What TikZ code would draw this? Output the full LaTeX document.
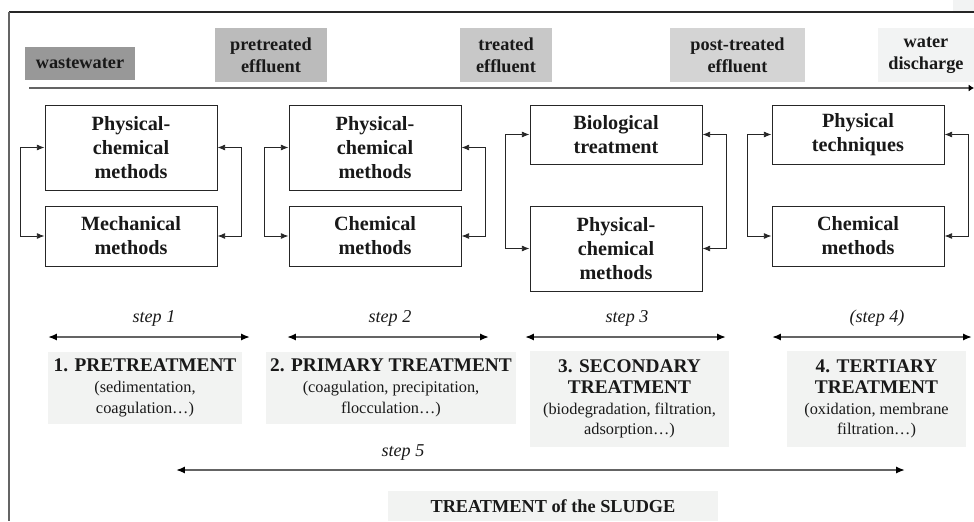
\documentclass[tikz,border=0pt]{standalone}
\usepackage{fontspec}
\setmainfont{Liberation Serif}
\usetikzlibrary{arrows.meta}
\definecolor{toneA}{RGB}{152,152,152}
\definecolor{toneB}{RGB}{187,187,187}
\definecolor{toneC}{RGB}{200,200,200}
\definecolor{toneD}{RGB}{212,212,212}
\definecolor{toneE}{RGB}{242,243,243}
\definecolor{stagefill}{RGB}{242,243,242}
\definecolor{linegray}{RGB}{100,100,100}
\newcommand{\stagetitle}{\fontsize{11}{12.5}\selectfont\bfseries}
\begin{document}
\begin{tikzpicture}
[x=0.02cm,y=-0.02cm,
  labeldecorate/.style={fill=#1,align=center,inner sep=0pt,text=black!90,
    font=\fontsize{10.4}{12.4}\selectfont\bfseries},%
  methoddecorate/.style={draw=black!85,line width=0.5pt,fill=white,align=center,
    inner sep=0pt,minimum width=3.44cm,text=black!90,
    font=\fontsize{11.5}{13.6}\selectfont\bfseries},%
  stagedecorate/.style={fill=stagefill,align=center,inner sep=0pt,text=black!90,
    font=\fontsize{9.3}{11.8}\selectfont},%
  stepdecorate/.style={font=\fontsize{10.3}{12}\selectfont\itshape,text=black!90},%
  loopdecorate/.style={{Latex[length=4.4pt,width=3.4pt]}-{Latex[length=4.4pt,width=3.4pt]},
    line width=0.5pt,black!85},%
  spandecorate/.style={{Latex[length=5pt,width=4pt,color=black]}-{Latex[length=5pt,width=4pt,color=black]},
    line width=1pt,linegray},%
  flowdecorate/.style={-{Latex[length=3pt,width=4pt,color=black]},line width=1.2pt,linegray}]
\useasboundingbox (0,0) rectangle (974,521);
%% frame
\fill[toneE] (953,0) rectangle (974,11);
\draw[black!85,line width=0.6pt] (974,12) -- (9,12);
\draw[linegray,line width=1.1pt] (9,12) -- (9,521);
%% effluent labels
\foreach \nodename/\x/\y/\w/\h/\tone/\txt in {
    waste/80/63.5/2.2/0.66/toneA/wastewater,
    pre/271/55/2.24/1.08/toneB/{pretreated\\effluent},
    treated/506/55/1.84/1.08/toneC/{treated\\effluent},
    post/737.5/55/2.7/1.08/toneD/{post-treated\\effluent},
    discharge/926/55/1.92/1.08/toneE/{water\\discharge}} {
  \node (\nodename) at (\x,\y) [labeldecorate=\tone,minimum width=\w cm,minimum height=\h cm] {\txt};
}
\coordinate (flowstart) at (29,88);
\coordinate (flowend) at (974,88);
\draw[flowdecorate] (flowstart) -- (flowend);
%% method boxes
\foreach \nodename/\x/\y/\h/\txt in {
    m1a/131/147.5/1.7/{Physical-\\chemical\\methods},
    m1b/131/236/1.2/{Mechanical\\methods},
    m2a/375/147.5/1.7/{Physical-\\chemical\\methods},
    m2b/375/236/1.2/{Chemical\\methods},
    m3a/616/134.5/1.18/{Biological\\treatment},
    m3b/616/248.5/1.7/{Physical-\\chemical\\methods},
    m4a/858/134.5/1.18/{Physical\\techniques},
    m4b/858/236/1.2/{Chemical\\methods}} {
  \node (\nodename) at (\x,\y) [methoddecorate,minimum height=\h cm] {\txt};
}
%% loops between methods
\foreach \upnode/\downnode in {m1a/m1b, m2a/m2b, m3a/m3b, m4a/m4b} {
  \draw[loopdecorate] (\upnode.west) -- ++(-24,0) |- (\downnode.west);
  \draw[loopdecorate] (\upnode.east) -- ++(24,0) |- (\downnode.east);
}
%% steps
\foreach \nodename/\x/\y/\txt in {step1/154/318/{step 1}, step2/390/318/{step 2},
    step3/627/318/{step 3}, step4/877/318/{(step 4)}, step5/403/452/{step 5}} {
  \node (\nodename) at (\x,\y) [stepdecorate] {\txt};
}
\foreach \startnode/\endnode/\xa/\xb/\y in {s1a/s1b/48/250/337, s2a/s2b/287/489/337,
    s3a/s3b/525/726/337, s4a/s4b/772/972/337, s5a/s5b/176/905/470} {
  \coordinate (\startnode) at (\xa,\y);
  \coordinate (\endnode) at (\xb,\y);
  \draw[spandecorate] (\startnode) -- (\endnode);
}
%% treatment stages
\foreach \nodename/\x/\y/\w/\h/\txt in {
    t1/145/388/3.88/1.46/{{\stagetitle 1. PRETREATMENT}\\(sedimentation,\\coagulation…)},
    t2/391/388/5.0/1.46/{{\stagetitle 2. PRIMARY TREATMENT}\\(coagulation, precipitation,\\flocculation…)},
    t3/629.5/399/3.98/1.92/{{\stagetitle 3. SECONDARY}\\{\stagetitle TREATMENT}\\(biodegradation, filtration,\\adsorption…)},
    t4/876.5/399/3.58/1.92/{{\stagetitle 4. TERTIARY}\\{\stagetitle TREATMENT}\\(oxidation, membrane\\filtration…)}} {
  \node (\nodename) at (\x,\y) [stagedecorate,minimum width=\w cm,minimum height=\h cm] {\txt};
}
\node (sludge) at (553,506) [stagedecorate,minimum width=6.6cm,minimum height=0.6cm,
  font=\fontsize{10.4}{12}\selectfont\bfseries] {TREATMENT of the SLUDGE};
\end{tikzpicture}
\end{document}
